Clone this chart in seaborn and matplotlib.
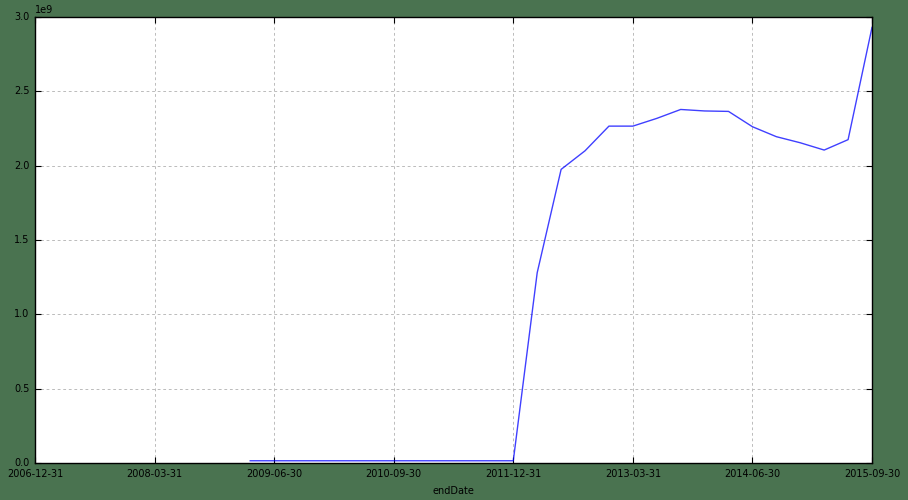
import pandas as pd
import matplotlib
matplotlib.use("Agg")
import matplotlib.pyplot as plt
import seaborn as sns

# quarter ends on the x axis
quarters = pd.date_range("2006-12-31", "2015-09-30", freq="QE")
tick_labels = [d.strftime("%Y-%m-%d") for d in quarters[::5]]

# first quarter with data is 2009-03-31
start_quarter = "2009-03-31"
values = [0.015e9] * 12 + [
    1.28e9, 1.975e9, 2.10e9, 2.266e9, 2.266e9, 2.318e9, 2.378e9,
    2.368e9, 2.365e9, 2.262e9, 2.195e9, 2.154e9, 2.105e9, 2.175e9, 2.93e9,
]

start = list(quarters).index(pd.Timestamp(start_quarter))
df = pd.DataFrame({"pos": range(start, start + len(values)), "value": values})

plt.style.use("classic")
plt.rcParams["font.family"] = ["DejaVu Sans"]
plt.rcParams["font.size"] = 7

fig = plt.figure(figsize=(9.08, 5.0), dpi=100)
fig.patch.set_facecolor("#4a7350")
ax = fig.add_axes([35 / 908, 37 / 500, 837 / 908, 446 / 500])

sns.lineplot(data=df, x="pos", y="value", ax=ax, color="#0000ff", linewidth=1.0, alpha=0.75)

ax.set_xlim(0, len(quarters) - 1)
ax.set_ylim(0, 3e9)
ax.set_xticks(range(0, len(quarters), 5))
ax.set_xticklabels(tick_labels)
ax.set_yticks([i * 0.5e9 for i in range(7)])
ax.set_xlabel("endDate", fontsize=7)
ax.set_ylabel("")
ax.tick_params(labelsize=7, direction="in", top=True, right=True, length=4, width=0.8)
ax.grid(True, color="#bbbbbb", linestyle=(0, (2, 2)), linewidth=0.7)
ax.set_axisbelow(True)
ax.yaxis.get_offset_text().set_fontsize(7)
for s in ax.spines.values():
    s.set_linewidth(1.0)

fig.savefig("out.png", dpi=100, facecolor=fig.get_facecolor())
